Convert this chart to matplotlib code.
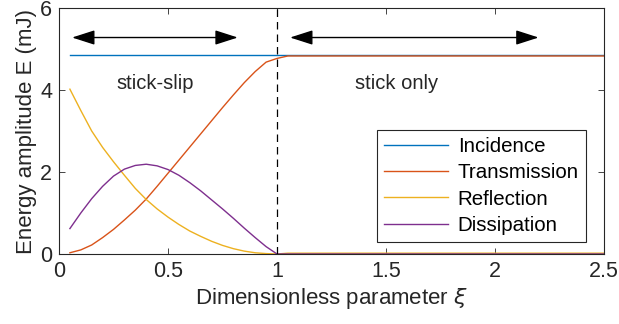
import matplotlib
matplotlib.use('Agg')
import matplotlib.pyplot as plt

plt.rcParams['font.family'] = ['Liberation Sans', 'DejaVu Sans']

# Datos
xi = [0.05, 0.10, 0.15, 0.20, 0.25, 0.30, 0.35, 0.40, 0.45, 0.50,
      0.55, 0.60, 0.65, 0.70, 0.75, 0.80, 0.85, 0.90, 0.95, 1.00,
      1.05, 1.50, 2.00, 2.50]
incidence = [4.85] * len(xi)
transmission = [0.03, 0.10, 0.22, 0.40, 0.60, 0.83, 1.07, 1.34, 1.65, 1.97,
                2.29, 2.61, 2.93, 3.25, 3.57, 3.88, 4.18, 4.45, 4.68, 4.77,
                4.83, 4.83, 4.83, 4.83]
reflection = [4.02, 3.50, 3.00, 2.60, 2.25, 1.92, 1.60, 1.33, 1.10, 0.90,
              0.72, 0.56, 0.43, 0.31, 0.21, 0.13, 0.07, 0.03, 0.01, 0.0,
              0.02, 0.02, 0.02, 0.02]
dissipation = [0.62, 1.00, 1.35, 1.65, 1.90, 2.07, 2.16, 2.19, 2.15, 2.06,
               1.92, 1.74, 1.54, 1.32, 1.10, 0.87, 0.63, 0.40, 0.18, 0.0,
               0.0, 0.0, 0.0, 0.0]

fig = plt.figure(figsize=(6.19, 3.24), dpi=100)
ax = fig.add_axes([59 / 619, 1 - 254 / 324, 545 / 619, 246 / 324])

ax.plot(xi, incidence, color='#0072BD', lw=1, label='Incidence')
ax.plot(xi, transmission, color='#D95319', lw=1, label='Transmission')
ax.plot(xi, reflection, color='#EDB120', lw=1, label='Reflection')
ax.plot(xi, dissipation, color='#7E2F8E', lw=1, label='Dissipation')

ax.axvline(1.0, color='black', lw=0.9, ls=(0, (6, 4)))

arrow = dict(arrowstyle='<|-|>,head_length=1.4,head_width=0.45', color='black',
             lw=1.0, shrinkA=0, shrinkB=0)
ax.annotate('', xy=(0.06, 5.28), xytext=(0.82, 5.28), arrowprops=arrow)
ax.annotate('', xy=(1.06, 5.28), xytext=(2.2, 5.28), arrowprops=arrow)

ax.text(0.44, 4.17, 'stick-slip', ha='center', va='center', fontsize=14.5, color='#262626')
ax.text(1.55, 4.17, 'stick only', ha='center', va='center', fontsize=14.5, color='#262626')

ax.set_xlim(0, 2.5)
ax.set_ylim(0, 6)
ax.set_xticks([0, 0.5, 1, 1.5, 2, 2.5])
ax.set_xticklabels(['0', '0.5', '1', '1.5', '2', '2.5'])
ax.set_yticks([0, 2, 4, 6])
ax.tick_params(direction='in', top=True, right=True, labelsize=15.5,
               colors='#262626', length=4, width=0.6, pad=5)
for s in ax.spines.values():
    s.set_color('#262626')
    s.set_linewidth(0.8)

ax.set_xlabel('Dimensionless parameter $\\xi$', fontsize=16, color='#262626', labelpad=3)
ax.set_ylabel('Energy amplitude E (mJ)', fontsize=16, color='#262626', labelpad=2)

leg = ax.legend(loc='lower right', bbox_to_anchor=(0.967, 0.049), fontsize=14.8,
                fancybox=False, edgecolor='#262626', framealpha=1,
                handlelength=3.15, handletextpad=0.45, labelspacing=0.35,
                borderpad=0.35, borderaxespad=0)
leg.get_frame().set_linewidth(0.8)

plt.savefig('out.png', dpi=100)
plt.close()
